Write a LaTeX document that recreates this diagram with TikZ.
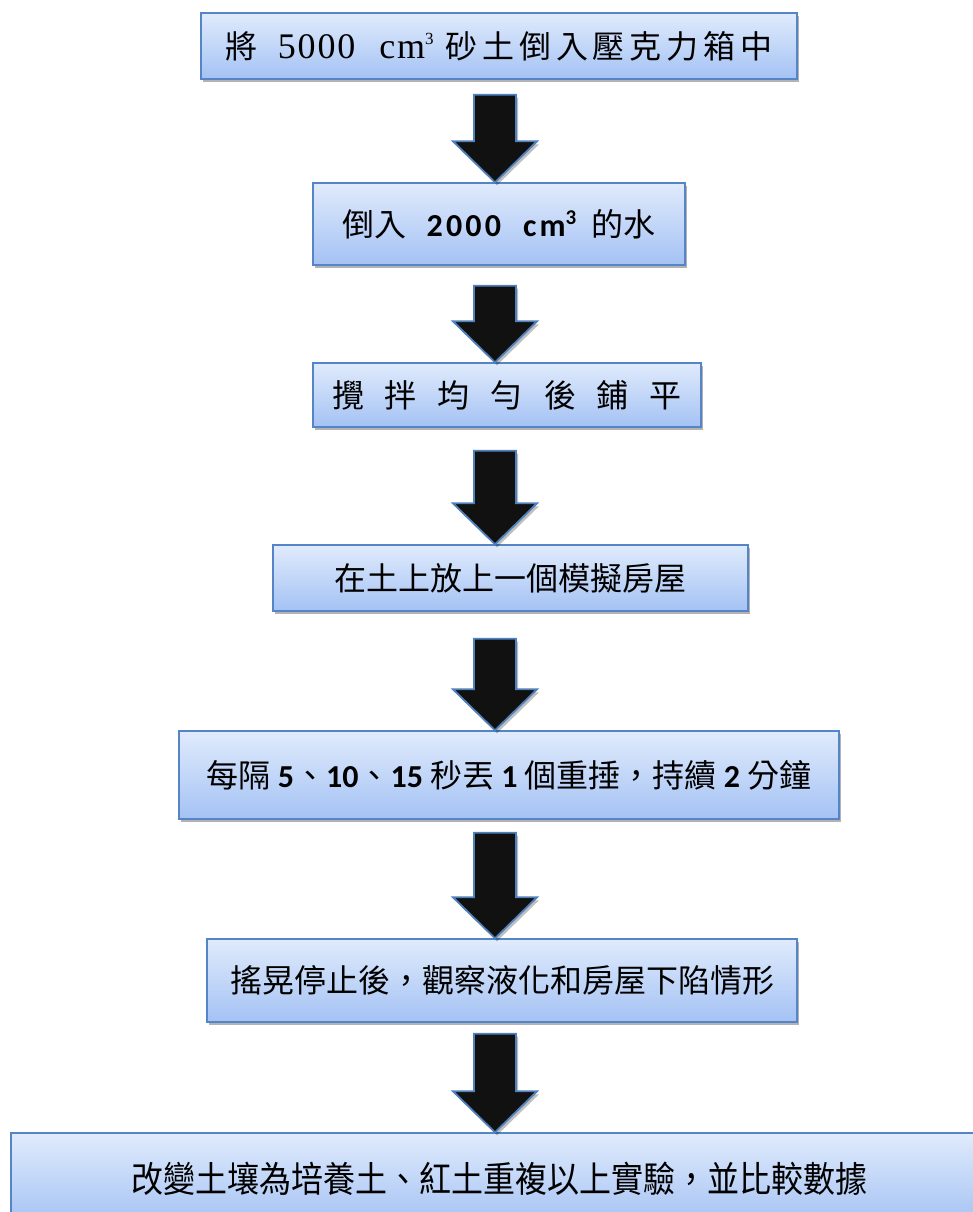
\documentclass[tikz,border=0pt]{standalone}
\usepackage{fontspec}
\setmainfont{Noto Sans CJK TC}
\newfontfamily\numfont{Carlito}
\newfontfamily\serfont{Liberation Serif}
\usetikzlibrary{shadows,calc}
\definecolor{boxtop}{HTML}{E0EBFC}
\definecolor{boxbot}{HTML}{A4C2F4}
\definecolor{boxline}{HTML}{5585C6}
\definecolor{arrfill}{HTML}{111111}
\definecolor{arrline}{HTML}{4F81BD}
\tikzset{
  stepbox/.style={draw=boxline, line width=1.4pt, top color=boxtop, bottom color=boxbot,
    drop shadow={shadow xshift=2pt, shadow yshift=-3pt, opacity=0.3, fill=black},
    inner sep=0pt, font=\fontsize{32}{38}\selectfont, text=black},
  blockarrow/.style={draw=arrline, line width=1.8pt, fill=arrfill, line join=miter,
    drop shadow={shadow xshift=2pt, shadow yshift=-3pt, opacity=0.25, fill=black}},
}
\newcommand\blockarr[3]{%
  \path[blockarrow] let \p1=(#1.south), \p2=(#2.north) in
  (474pt,\y1-#3) -- (516pt,\y1-#3) -- (516pt,\y2+41pt) -- (537pt,\y2+41pt)
  -- (495pt,\y2) -- (453pt,\y2+41pt) -- (474pt,\y2+41pt) -- cycle;}
\newcommand\supthree[2]{\raisebox{#2}{\fontsize{#1}{#1}\selectfont 3}}
\begin{document}
\begin{tikzpicture}[x=1pt,y=-1pt]
\useasboundingbox (0,0) rectangle (973,1212);
\fill[white] (0,0) rectangle (973,1212);
\clip (0,0) rectangle (973,1212);

\node[stepbox, minimum width=596pt, minimum height=66pt] (s1) at (499,46)
 {將\hspace{20pt}{\serfont\fontsize{36}{40}\selectfont\addfontfeature{LetterSpace=5}5000}\hspace{24pt}{\serfont\fontsize{36}{40}\selectfont\addfontfeature{LetterSpace=5}cm}{\serfont\supthree{17}{14pt}}\hspace{12pt}{\addfontfeature{LetterSpace=15}砂土倒入壓克力箱中}};

\node[stepbox, minimum width=372pt, minimum height=82pt] (s2) at (499,224)
 {倒入\hspace{20pt}{\numfont\bfseries\addfontfeature{LetterSpace=10}2000}\hspace{22pt}{\numfont\bfseries\addfontfeature{LetterSpace=10}cm}{\numfont\bfseries\supthree{21}{12pt}}\hspace{15pt}的水};

\node[stepbox, minimum width=388pt, minimum height=64pt] (s3) at (507,395)
 {攪\hspace{21pt}拌\hspace{21pt}均\hspace{21pt}勻\hspace{21pt}後\hspace{21pt}鋪\hspace{21pt}平};

\node[stepbox, minimum width=475pt, minimum height=66pt] (s4) at (510.5,578)
 {在土上放上一個模擬房屋};

\node[stepbox, minimum width=660pt, minimum height=88pt] (s5) at (509,775)
 {每隔 {\numfont\bfseries 5}、{\numfont\bfseries 10}、{\numfont\bfseries 15} 秒丟 {\numfont\bfseries 1} 個重捶，持續 {\numfont\bfseries 2} 分鐘};

\node[stepbox, minimum width=590pt, minimum height=83pt] (s6) at (502,980.5)
 {搖晃停止後，觀察液化和房屋下陷情形};

\node[stepbox, minimum width=976pt, minimum height=92pt] (s7) at (499,1179)
 {\scalebox{1}[1.12]{改變土壤為培養土、紅土重複以上實驗，並比較數據}};

\blockarr{s1}{s2}{15pt}
\blockarr{s2}{s3}{20pt}
\blockarr{s3}{s4}{23pt}
\blockarr{s4}{s5}{27pt}
\blockarr{s5}{s6}{13pt}
\blockarr{s6}{s7}{11pt}
\end{tikzpicture}
\end{document}
